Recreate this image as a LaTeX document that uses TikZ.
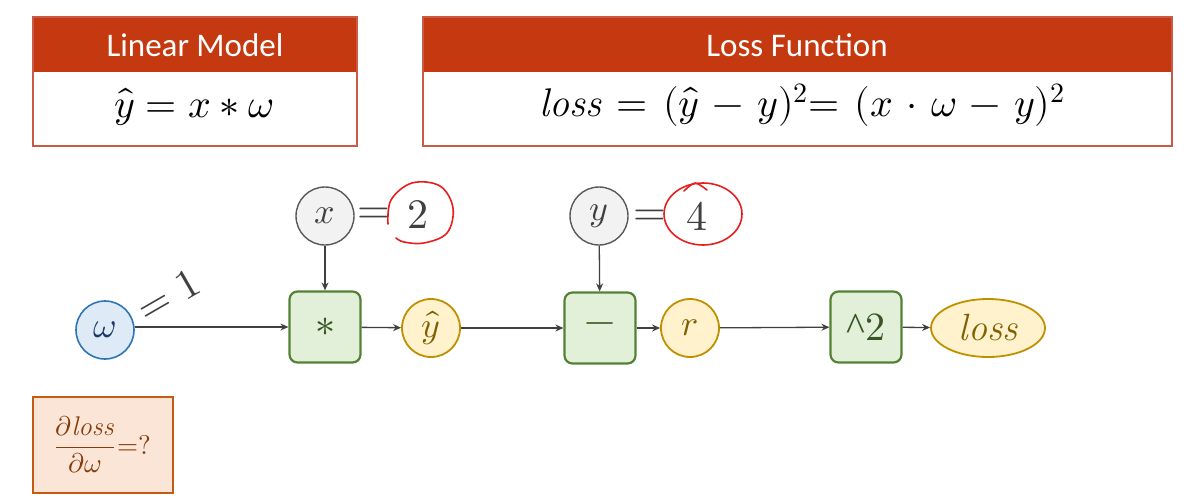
\documentclass[tikz,border=0pt]{standalone}
\usepackage{fontspec}
\usepackage{amsmath}
\usepackage{unicode-math}
\setmathfont{Latin Modern Math}
\newfontfamily\hdrfont{Carlito}
\newfontfamily\caretfont{Liberation Serif}
\usetikzlibrary{arrows.meta,shapes.geometric}
\definecolor{hdrred}{RGB}{196,57,15}
\definecolor{boxedge}{RGB}{200,90,70}
\definecolor{wfill}{RGB}{222,235,247}
\definecolor{wedge}{RGB}{46,117,182}
\definecolor{wtext}{RGB}{31,56,100}
\definecolor{gfill}{RGB}{242,242,242}
\definecolor{gedge}{RGB}{89,89,89}
\definecolor{gtext}{RGB}{64,64,64}
\definecolor{opfill}{RGB}{226,240,217}
\definecolor{opedge}{RGB}{84,130,53}
\definecolor{optext}{RGB}{55,86,35}
\definecolor{yfill}{RGB}{255,242,204}
\definecolor{yedge}{RGB}{191,144,0}
\definecolor{ytext}{RGB}{127,96,0}
\definecolor{dfill}{RGB}{251,229,214}
\definecolor{dedge}{RGB}{197,90,17}
\definecolor{dtext}{RGB}{132,60,12}
\definecolor{arr}{RGB}{64,64,64}
\definecolor{penred}{RGB}{230,30,30}
\tikzset{
  hdrtext/.style={text=white,font=\hdrfont\fontsize{33}{36}\selectfont,inner sep=0pt},
  fmla/.style={text=black,font=\fontsize{40}{44}\selectfont,inner sep=0pt},
  wnode/.style={circle,draw=wedge,fill=wfill,line width=1.6pt,minimum size=58pt,inner sep=0pt,text=wtext,font=\fontsize{36}{40}\selectfont},
  invar/.style={circle,draw=gedge,fill=gfill,line width=1.4pt,minimum size=58pt,inner sep=0pt,text=gtext,font=\fontsize{36}{40}\selectfont},
  opbox/.style={rectangle,rounded corners=8pt,draw=opedge,fill=opfill,line width=2.2pt,minimum width=71pt,minimum height=71pt,inner sep=0pt,text=optext,font=\fontsize{40}{44}\selectfont},
  valnode/.style={circle,draw=yedge,fill=yfill,line width=1.8pt,minimum size=58pt,inner sep=0pt,text=ytext,font=\fontsize{36}{40}\selectfont},
  conn/.style={draw=arr,line width=1.3pt,-{Stealth[length=8pt,width=7pt]}},
  bigtext/.style={text=gtext,inner sep=0pt,font=\fontsize{42}{46}\selectfont},
  pen/.style={draw=penred,line width=1.6pt,line cap=round,line join=round}
}
\begin{document}
\begin{tikzpicture}[x=1pt,y=-1pt]
\useasboundingbox (0,0) rectangle (1199,503);
% Linear Model box
\fill[hdrred] (33,17) rectangle (357,72);
\draw[boxedge,line width=1.5pt] (33,17) rectangle (357,146);
\node[hdrtext] (lmtitle) at (195,45) {Linear Model};
\node[fmla] (lmf) at (194,107) {$\hat{y} = x * \omega$};
% Loss Function box
\fill[hdrred] (423,17) rectangle (1172,72);
\draw[boxedge,line width=1.5pt] (423,17) rectangle (1172,146);
\node[hdrtext] (lftitle) at (797,45) {Loss Function};
\node[fmla] (lff) at (802,105) {$\medmuskip=6mu\thickmuskip=7mu\mathit{loss} = (\hat{y} - y)^2\mkern-7mu = (x \cdot \omega - y)^2$};
% graph nodes
\node[wnode] (w) at (105,330) {$\omega$};
\node[invar] (x) at (325,216) {$x$};
\node[opbox] (mul) at (325,327) {$*$};
\node[valnode] (yhat) at (431,328) {$\hat{y}$};
\node[invar] (y) at (599,216) {$y$};
\node[opbox] (sub) at (600,328) {$-$};
\node[valnode] (r) at (690,328) {$r$};
\node[opbox] (sq) at (866,327) {{\caretfont\textasciicircum}$2$};
\node[ellipse,draw=yedge,fill=yfill,line width=1.8pt,minimum width=114pt,minimum height=58pt,inner sep=0pt,text=ytext,font=\fontsize{38}{42}\selectfont] (loss) at (988,328) {$\mathit{loss}$};
% connectors
\draw[conn] (w.east |- mul) -- (mul.west);
\draw[conn] (x) -- (mul);
\draw[conn] (mul) -- (yhat);
\draw[conn] (yhat) -- (sub);
\draw[conn] (y) -- (sub);
\draw[conn] (sub) -- (r);
\draw[conn] (r) -- (sq);
\draw[conn] (sq) -- (loss);
% values
\node[bigtext,rotate=30] (wval) at (168,295) {$=1$};
\node[bigtext] (xeq) at (374,216) {$=$};
\node[bigtext] (xval) at (418,215) {$2$};
\node[bigtext] (yeq) at (650,218) {$=$};
\node[bigtext] (yval) at (697,216) {$4$};
% hand-drawn red circles
\draw[pen] plot[smooth,tension=0.6] coordinates {(388,224) (391,200) (412,183) (440,186) (453,208) (447,233) (424,243) (404,242) (396,238)};
\draw[pen] (703,214) ellipse [x radius=39,y radius=31];
\draw[pen] plot[smooth] coordinates {(684,191) (695,183) (707,190)};
% derivative box
\node[rectangle,draw=dedge,fill=dfill,line width=2pt,minimum width=140pt,minimum height=96pt,inner sep=0pt,text=dtext,font=\fontsize{27}{30}\selectfont] (deriv) at (103,445) {$\dfrac{\partial \mathit{loss}}{\partial \omega}\mkern2mu{=}?$};
\end{tikzpicture}
\end{document}
